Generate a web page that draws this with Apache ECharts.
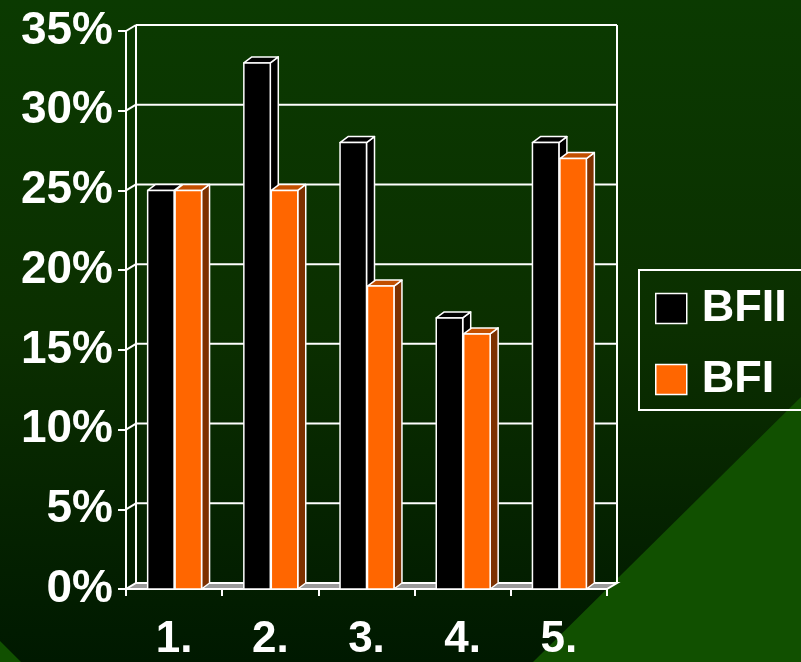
<!DOCTYPE html>
<html>
<head>
<meta charset="utf-8">
<script src="https://cdn.jsdelivr.net/npm/echarts@6/dist/echarts.min.js"></script>
<style>html,body{margin:0;padding:0;background:#0a3000;}#c{width:801px;height:662px;}</style>
</head>
<body>
<div id="c"></div>
<script>
const categories = ['1.', '2.', '3.', '4.', '5.'];
const seriesNames = ['BFII', 'BFI'];
const bfii = [25, 33, 28, 17, 28];
const bfi = [25, 25, 19, 16, 27];
const yTicks = [0, 5, 10, 15, 20, 25, 30, 35];

const FONT = '"Liberation Sans", Arial, sans-serif';
const WALL_DX = 10, WALL_DY = -6;
const BAR_DX = 8, BAR_DY = -6;
const LINE = '#ffffff';

const chart = echarts.init(document.getElementById('c'), null, {renderer: 'canvas'});

function wallItem(params, api) {
  const cs = params.coordSys;
  const v = api.value(1);
  const y = api.coord([0, v])[1];
  const y0 = api.coord([0, 0])[1];
  const x0 = cs.x, x1 = cs.x + cs.width;
  const ls = {stroke: LINE, lineWidth: 2};
  const children = [];
  if (v === 0) {
    children.push({type: 'polygon', shape: {points: [[x0, y0], [x1, y0], [x1 + WALL_DX, y0 + WALL_DY], [x0 + WALL_DX, y0 + WALL_DY]]},
      style: {fill: '#9a9a9a', stroke: LINE, lineWidth: 2}});
  } else {
    children.push({type: 'line', shape: {x1: x0 + WALL_DX, y1: y + WALL_DY, x2: x1 + WALL_DX, y2: y + WALL_DY}, style: ls});
    children.push({type: 'line', shape: {x1: x0, y1: y, x2: x0 + WALL_DX, y2: y + WALL_DY}, style: ls});
  }
  if (v === yTicks[yTicks.length - 1]) {
    children.push({type: 'line', shape: {x1: x0 + WALL_DX, y1: y + WALL_DY, x2: x0 + WALL_DX, y2: y0 + WALL_DY}, style: ls});
    children.push({type: 'line', shape: {x1: x1 + WALL_DX, y1: y + WALL_DY, x2: x1 + WALL_DX, y2: y0 + WALL_DY}, style: ls});
  }
  return {type: 'group', children: children};
}

function barRenderer(which, front, top, side) {
  return function (params, api) {
    const idx = api.value(0), val = api.value(1);
    const pt = api.coord([idx, val]);
    const base = api.coord([idx, 0]);
    const band = api.size([1, 0])[0];
    const w = band * 0.275;
    const x = which === 0 ? pt[0] - w : pt[0] + 1;
    const yt = pt[1], yb = base[1];
    const st = {stroke: LINE, lineWidth: 1.5, lineJoin: 'round'};
    return {type: 'group', children: [
      {type: 'polygon', shape: {points: [[x + w, yt], [x + w + BAR_DX, yt + BAR_DY], [x + w + BAR_DX, yb + BAR_DY], [x + w, yb]]},
        style: Object.assign({fill: side}, st)},
      {type: 'polygon', shape: {points: [[x, yt], [x + BAR_DX, yt + BAR_DY], [x + w + BAR_DX, yt + BAR_DY], [x + w, yt]]},
        style: Object.assign({fill: top}, st)},
      {type: 'rect', shape: {x: x, y: yt, width: w, height: yb - yt},
        style: Object.assign({fill: front}, st)}
    ]};
  };
}

const option = {
  backgroundColor: {
    type: 'linear', x: 0, y: 0, x2: 0, y2: 1,
    colorStops: [{offset: 0, color: '#0b3a01'}, {offset: 0.5, color: '#0b2f00'}, {offset: 1, color: '#001900'}]
  },
  animation: false,
  graphic: [
    {type: 'polygon', z: -10, shape: {points: [[533, 662], [801, 397], [801, 662]]}, style: {fill: '#115000'}},
    {type: 'polygon', z: -10, shape: {points: [[0, 641], [21, 662], [0, 662]]}, style: {fill: '#115000'}},
    {type: 'rect', z: 5, shape: {x: 639, y: 270, width: 200, height: 140}, style: {fill: 'none', stroke: '#ffffff', lineWidth: 2}}
  ],
  grid: {left: 126, right: 194, top: 31, bottom: 69, containLabel: false},
  legend: {
    orient: 'vertical', left: 639, top: 270,
    padding: [16, 10, 10, 16],
    itemGap: 26, itemWidth: 31, itemHeight: 30,
    borderWidth: 0,
    icon: 'rect',
    textStyle: {color: '#ffffff', fontSize: 45, fontWeight: 'bold', fontFamily: FONT, lineHeight: 44, padding: [0, 0, 0, 10]},
    data: [
      {name: 'BFII', itemStyle: {color: '#000000', borderColor: '#ffffff', borderWidth: 1.5}},
      {name: 'BFI', itemStyle: {color: '#ff6600', borderColor: '#ffffff', borderWidth: 1.5}}
    ]
  },
  xAxis: {
    type: 'category', data: categories, boundaryGap: true,
    axisLine: {show: true, lineStyle: {color: LINE, width: 2}},
    axisTick: {show: true, length: 7, lineStyle: {color: LINE, width: 2}},
    axisLabel: {color: '#ffffff', fontSize: 44, fontWeight: 'bold', fontFamily: FONT, margin: 29, lineHeight: 44},
    splitLine: {show: false}
  },
  yAxis: {
    type: 'value', min: 0, max: 35, interval: 5,
    axisLine: {show: true, lineStyle: {color: LINE, width: 2}},
    axisTick: {show: true, length: 8, lineStyle: {color: LINE, width: 2}},
    axisLabel: {color: '#ffffff', fontSize: 46, fontWeight: 'bold', fontFamily: FONT, margin: 13, formatter: '{value}%'},
    splitLine: {show: false}
  },
  series: [
    {type: 'custom', name: 'walls', z: 1, clip: false, silent: true, renderItem: wallItem,
      data: yTicks.map(v => [0, v]), encode: {x: 0, y: 1}},
    {type: 'custom', name: seriesNames[0], z: 3, clip: false, itemStyle: {color: '#000000'},
      renderItem: barRenderer(0, '#000000', '#000000', '#000000'),
      data: bfii.map((v, i) => [i, v]), encode: {x: 0, y: 1}},
    {type: 'custom', name: seriesNames[1], z: 4, clip: false, itemStyle: {color: '#ff6600'},
      renderItem: barRenderer(1, '#ff6600', '#c24f00', '#7d3100'),
      data: bfi.map((v, i) => [i, v]), encode: {x: 0, y: 1}}
  ]
};
chart.setOption(option);
</script>
</body>
</html>
